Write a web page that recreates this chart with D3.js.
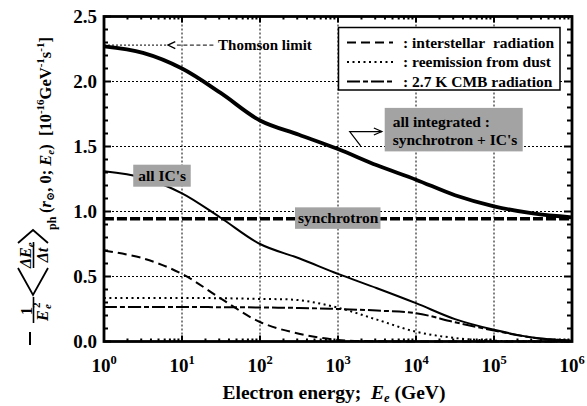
<!DOCTYPE html>
<html>
<head>
<meta charset="utf-8">
<script src="https://cdn.jsdelivr.net/npm/d3@7"></script>
<style>
  html, body { margin: 0; padding: 0; background: #fff; }
</style>
</head>
<body>
<svg id="chart" width="587" height="406"></svg>
<script>
// Electron energies (GeV), half-decade steps
const energy = [1, 3.162, 10, 31.62, 100, 316.2, 1e3, 3162, 1e4, 31623, 1e5, 316228, 1e6];

// Energy-loss rates divided by E^2 (10^-16 GeV^-1 s^-1)
const allIntegrated = [2.27, 2.22, 2.10, 1.91, 1.70, 1.59, 1.48, 1.355, 1.245, 1.125, 1.04, 0.985, 0.955];
const allIC         = [1.31, 1.26, 1.14, 0.95, 0.75, 0.64, 0.52, 0.41, 0.295, 0.172, 0.09, 0.031, 0.005];
const synchrotron   = [0.945, 0.945, 0.945, 0.945, 0.945, 0.945, 0.945, 0.945, 0.945, 0.945, 0.945, 0.945, 0.945];
const interstellar  = [0.70, 0.64, 0.52, 0.33, 0.15, 0.06, 0.012, 0.002, 0, 0, 0, 0, 0];
const dustReemission = [0.335, 0.335, 0.335, 0.333, 0.327, 0.318, 0.26, 0.168, 0.075, 0.027, 0.006, 0.001, 0];
const cmb           = [0.265, 0.265, 0.265, 0.264, 0.262, 0.258, 0.25, 0.238, 0.218, 0.148, 0.084, 0.03, 0.005];

// Axis ticks
const xTickExponents = [0, 1, 2, 3, 4, 5, 6];
const yTickLabels = ["0.0", "0.5", "1.0", "1.5", "2.0", "2.5"];
const yTickValues = [0, 0.5, 1.0, 1.5, 2.0, 2.5];

// Legend entries
const legendLabels = [": interstellar\u00a0 radiation", ": reemission from dust", ": 2.7 K CMB radiation"];

const FONT = "'Liberation Serif', 'Times New Roman', Tinos, 'DejaVu Serif', serif";

const svg = d3.select("#chart")
  .attr("font-family", FONT).attr("font-weight", "bold");
const plot = { left: 104, right: 572, top: 16.5, bottom: 341.5 };

const x = d3.scaleLog().domain([1, 1e6]).range([plot.left, plot.right]);
const y = d3.scaleLinear().domain([0, 2.5]).range([plot.bottom, plot.top]);

// every text node gets the serif face explicitly
function txt(parent, size) {
  return parent.append("text")
    .attr("font-family", FONT).attr("font-weight", "bold")
    .attr("font-size", size).attr("fill", "#000");
}

// ---- grid ----
const grid = svg.append("g").attr("stroke", "#000").attr("stroke-width", 1).attr("stroke-dasharray", "2,2");
xTickExponents.slice(1, -1).forEach(p => {
  grid.append("line").attr("x1", x(10 ** p)).attr("x2", x(10 ** p))
    .attr("y1", plot.top).attr("y2", plot.bottom);
});
yTickValues.slice(1, -1).forEach(v => {
  grid.append("line").attr("y1", y(v)).attr("y2", y(v))
    .attr("x1", plot.left).attr("x2", plot.right);
});

// ---- curves ----
const line = d3.line().x(d => x(d[0])).y(d => y(d[1])).curve(d3.curveCatmullRom.alpha(0.5));
const zipE = arr => energy.map((e, i) => [e, arr[i]]);

const DASH = { interstellar: "9,5", dust: "2,3.5", cmb: "13,3,5,3", synch: "10,3" };

function drawSeries(values, width, dash) {
  svg.append("path").datum(zipE(values)).attr("d", line)
    .attr("fill", "none").attr("stroke", "#000").attr("stroke-width", width)
    .attr("stroke-dasharray", dash || null).attr("stroke-linecap", "butt");
}
drawSeries(interstellar, 2, DASH.interstellar);
drawSeries(dustReemission, 2, DASH.dust);
drawSeries(cmb, 2, DASH.cmb);
drawSeries(allIC, 2);
drawSeries(synchrotron, 3.5, DASH.synch);
drawSeries(allIntegrated, 3.8);

// ---- frame and ticks ----
svg.append("rect").attr("x", plot.left).attr("y", plot.top)
  .attr("width", plot.right - plot.left).attr("height", plot.bottom - plot.top)
  .attr("fill", "none").attr("stroke", "#000").attr("stroke-width", 2.8);

const ticks = svg.append("g").attr("stroke", "#000").attr("stroke-width", 2);
// x ticks: major at decades, minor at 2..9
xTickExponents.forEach(p => {
  const X = x(10 ** p);
  ticks.append("line").attr("x1", X).attr("x2", X).attr("y1", plot.bottom).attr("y2", plot.bottom - 6);
  ticks.append("line").attr("x1", X).attr("x2", X).attr("y1", plot.top).attr("y2", plot.top + 6);
  if (p < 6) {
    for (let m = 2; m <= 9; m++) {
      const Xm = x(m * 10 ** p);
      ticks.append("line").attr("x1", Xm).attr("x2", Xm).attr("y1", plot.bottom).attr("y2", plot.bottom - 3);
      ticks.append("line").attr("x1", Xm).attr("x2", Xm).attr("y1", plot.top).attr("y2", plot.top + 3);
    }
  }
});
// y ticks: every 0.1, longer at 0.5
d3.range(0, 26).forEach(k => {
  const Y = y(k / 10);
  const len = k % 5 === 0 ? 7 : 4;
  ticks.append("line").attr("x1", plot.left).attr("x2", plot.left + len).attr("y1", Y).attr("y2", Y);
  ticks.append("line").attr("x1", plot.right).attr("x2", plot.right - (len + 1)).attr("y1", Y).attr("y2", Y);
});

// ---- tick labels ----
xTickExponents.forEach(p => {
  const t = txt(svg, 19).attr("x", x(10 ** p)).attr("y", 372).attr("text-anchor", "middle");
  t.append("tspan").text("10");
  t.append("tspan").attr("dy", -8).attr("font-size", 12.5).text(p);
});
yTickValues.forEach((v, i) => {
  txt(svg, 19).attr("x", 97).attr("y", y(v) + 6.5).attr("text-anchor", "end").text(yTickLabels[i]);
});

// ---- x axis title ----
const xt = txt(svg, 19.5).attr("x", 334).attr("y", 399).attr("text-anchor", "middle");
xt.append("tspan").text("Electron energy;\u00a0 ");
xt.append("tspan").attr("font-style", "italic").text("E");
xt.append("tspan").attr("dy", 3).attr("font-size", 12.5).attr("font-style", "italic").text("e");
xt.append("tspan").attr("dy", -3).text(" (GeV)");

// ---- y axis title (rotated, built from pieces) ----
const yl = svg.append("g").attr("transform", "rotate(-90)");
const stroke = (sel, w) => sel.attr("stroke", "#000").attr("fill", "none").attr("stroke-width", w);
stroke(yl.append("line").attr("x1", -345).attr("x2", -332).attr("y1", 30).attr("y2", 30), 2);
txt(yl, 16).attr("x", -311).attr("y", 31.5).attr("text-anchor", "middle").text("1");
stroke(yl.append("line").attr("x1", -323).attr("x2", -297).attr("y1", 33.5).attr("y2", 33.5), 1.6);
txt(yl, 16).attr("x", -321).attr("y", 47.5).attr("font-style", "italic").text("E");
txt(yl, 11).attr("x", -309).attr("y", 51).attr("font-style", "italic").text("e");
txt(yl, 11).attr("x", -308).attr("y", 40).text("2");
stroke(yl.append("path").attr("d", "M-268,18 L-295,33 L-268,48"), 1.8);
const num = txt(yl, 16).attr("x", -268).attr("y", 31).attr("font-style", "italic");
num.append("tspan").text("\u0394E");
num.append("tspan").attr("dy", 3).attr("font-size", 11).text("e");
stroke(yl.append("line").attr("x1", -268).attr("x2", -242).attr("y1", 33.5).attr("y2", 33.5), 1.6);
txt(yl, 16).attr("x", -255).attr("y", 47.5).attr("text-anchor", "middle").attr("font-style", "italic").text("\u0394t");
stroke(yl.append("path").attr("d", "M-243,18 L-230,33 L-243,48"), 1.8);
txt(yl, 12).attr("x", -230).attr("y", 56).text("ph");
const rest = txt(yl, 16.5).attr("x", -213).attr("y", 51);
rest.append("tspan").text("(");
rest.append("tspan").attr("font-style", "italic").text("r");
rest.append("tspan").attr("dy", 3).attr("font-size", 11).text("\u2299");
rest.append("tspan").attr("dy", -3).text(", 0; ");
rest.append("tspan").attr("font-style", "italic").text("E");
rest.append("tspan").attr("dy", 3).attr("font-size", 11).attr("font-style", "italic").text("e");
rest.append("tspan").attr("dy", -3).text(")\u00a0 [10");
rest.append("tspan").attr("dy", -7).attr("font-size", 11).text("-16");
rest.append("tspan").attr("dy", 7).text("GeV");
rest.append("tspan").attr("dy", -7).attr("font-size", 11).text("-1");
rest.append("tspan").attr("dy", 7).text("s");
rest.append("tspan").attr("dy", -7).attr("font-size", 11).text("-1");
rest.append("tspan").attr("dy", 7).text("]");

// ---- legend ----
const lg = svg.append("g");
lg.append("rect").attr("x", 338.5).attr("y", 27.5).attr("width", 221.5).attr("height", 62.5)
  .attr("fill", "#fff").attr("stroke", "#000").attr("stroke-width", 1.5);
const legendDash = [DASH.interstellar, DASH.dust, DASH.cmb];
legendLabels.forEach((lab, i) => {
  const Y = 42.5 + i * 19.5;
  lg.append("line").attr("x1", 347).attr("x2", 393).attr("y1", Y).attr("y2", Y)
    .attr("stroke", "#000").attr("stroke-width", 2).attr("stroke-dasharray", legendDash[i]);
  txt(lg, 15.5).attr("x", 403).attr("y", Y + 5).text(lab);
});

// ---- annotations ----
const ann = svg.append("g");
// Thomson limit: dotted guide from the axis, arrow, dashed leader to the label
const thY = y(2.28);
ann.append("line").attr("x1", x(1)).attr("x2", x(6.6)).attr("y1", thY).attr("y2", thY)
  .attr("stroke", "#000").attr("stroke-width", 1).attr("stroke-dasharray", "2,2");
ann.append("path").attr("d", `M${x(8.2)},${thY - 3.5} L${x(6.6)},${thY} L${x(8.2)},${thY + 3.5}`)
  .attr("fill", "none").attr("stroke", "#000").attr("stroke-width", 1.3);
ann.append("line").attr("x1", x(8.6)).attr("x2", x(27)).attr("y1", thY).attr("y2", thY)
  .attr("stroke", "#000").attr("stroke-width", 1).attr("stroke-dasharray", "4,2.5");
txt(ann, 15).attr("x", x(29)).attr("y", thY + 5).text("Thomson limit");

// grey label boxes
function greyLabel(lines, bx, by, bw, bh, tx, ty, lh) {
  ann.append("rect").attr("x", bx).attr("y", by).attr("width", bw).attr("height", bh).attr("fill", "#a3a3a3");
  lines.forEach((s, i) => txt(ann, 15.5).attr("x", tx).attr("y", ty + i * lh).text(s));
}
greyLabel(["all IC's"], x(2.37), y(1.36), 57.5, 22, x(2.37) + 5, y(1.36) + 16.5, 0);
greyLabel(["synchrotron"], x(281), y(1.032), 85.5, 21.5, x(281) + 3, y(1.032) + 16, 0);
greyLabel(["all integrated :", "synchrotron + IC's"], x(3970), y(1.797), 138, 43.5, x(3970) + 8, y(1.797) + 19.5, 18);

// leader arrow to the integrated curve
const ax0 = x(1950), ay0 = y(1.505), ax1 = x(1413), ay1 = y(1.615), ax2 = x(3650);
ann.append("path").attr("d", `M${ax0},${ay0} L${ax1},${ay1} L${ax2},${ay1}`)
  .attr("fill", "none").attr("stroke", "#000").attr("stroke-width", 1.2);
ann.append("path").attr("d", `M${ax2 - 8},${ay1 - 3.5} L${ax2},${ay1} L${ax2 - 8},${ay1 + 3.5}`)
  .attr("fill", "none").attr("stroke", "#000").attr("stroke-width", 1.2);
</script>
</body>
</html>
